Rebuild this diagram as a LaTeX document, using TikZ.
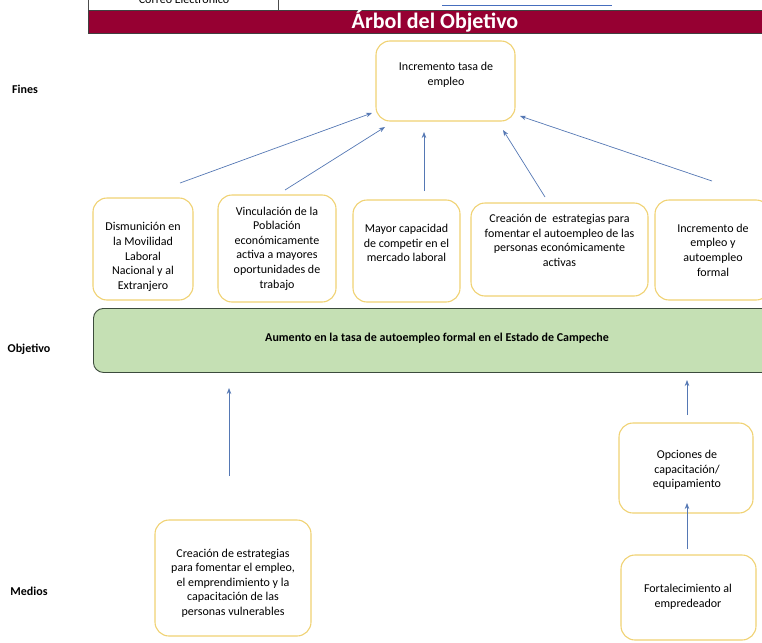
\documentclass[tikz,border=0pt]{standalone}
\usepackage{fontspec}
\setmainfont{Carlito}
\usetikzlibrary{arrows.meta}
\definecolor{boxyellow}{RGB}{240,210,115}
\definecolor{arrowblue}{RGB}{85,120,180}
\definecolor{titlered}{RGB}{150,0,50}
\definecolor{objgreen}{RGB}{197,224,180}
\definecolor{objborder}{RGB}{60,75,60}
\definecolor{linkblue}{RGB}{70,110,190}
\begin{document}
\begin{tikzpicture}[x=1pt,y=-1pt,
  box/.style={draw=boxyellow, line width=1.1pt, rounded corners=14pt, fill=white, inner sep=0pt},
  txt/.style={align=center, font=\fontsize{12}{14.6}\selectfont, inner sep=0pt},
  lbl/.style={font=\fontsize{12}{14}\selectfont\bfseries, inner sep=0pt},
  arr/.style={draw=arrowblue, line width=0.7pt, -{Stealth[length=6pt,width=4.5pt]}}]
\useasboundingbox (0,0) rectangle (762,642);
\clip (0,0) rectangle (762,642);

% top cut-off table row
\draw[black!70, line width=0.6pt] (88,-2) -- (88,10) (278,-2) -- (278,10);
\node[anchor=base, font=\fontsize{12}{14}\selectfont, inner sep=0pt] (correo) at (184,4) {Correo Electrónico};
\draw[linkblue, line width=0.6pt] (442,5.5) -- (612,5.5);

% title bar
\node[draw=black!75, fill=titlered, line width=0.8pt, minimum width=690, minimum height=23, inner sep=0pt, anchor=north west] (bar) at (88,10) {};
\node[text=white, font=\fontsize{22}{24}\selectfont\bfseries, inner sep=0pt] (title) at (435,21.5) {Árbol del Objetivo};

% side labels
\node[lbl] (fines) at (25,89) {Fines};
\node[lbl] (objetivo) at (29,349) {Objetivo};
\node[lbl] (medios) at (29,591) {Medios};

% top fin box
\node[box, minimum width=139, minimum height=80] (top) at (445.5,81) {};
\node[txt] (topt) at (446,75) {Incremento tasa de\\empleo};

% fines row
\node[box, minimum width=100, minimum height=102] (f1) at (143,249) {};
\node[txt] (f1t) at (143,257) {Dismunición en\\la Movilidad\\Laboral\\Nacional y al\\Extranjero};
\node[box, minimum width=118, minimum height=107] (f2) at (277,248.5) {};
\node[txt] (f2t) at (277,248.5) {Vinculación de la\\Población\\económicamente\\activa a mayores\\oportunidades de\\trabajo};
\node[box, minimum width=107, minimum height=102] (f3) at (406.5,251) {};
\node[txt] (f3t) at (406.5,243) {Mayor capacidad\\de competir en el\\mercado laboral};
\node[box, minimum width=177, minimum height=93] (f4) at (559.5,249.5) {};
\node[txt] (f4t) at (559.5,240.5) {Creación de\ \ estrategias para\\fomentar el autoempleo de las\\personas económicamente\\activas};
\node[box, minimum width=115, minimum height=100] (f5) at (712.5,250) {};
\node[txt] (f5t) at (713,250) {Incremento de\\empleo y\\autoempleo\\formal};

% objective
\node[draw=objborder, fill=objgreen, line width=0.9pt, rounded corners=10pt, minimum width=690, minimum height=64, anchor=north west, inner sep=0pt] (obj) at (93,308) {};
\node[font=\fontsize{12}{14}\selectfont\bfseries, inner sep=0pt] (objt) at (437,338) {Aumento en la tasa de autoempleo formal en el Estado de Campeche};

% medios
\node[box, minimum width=156, minimum height=116] (m1) at (233,578) {};
\node[txt] (m1t) at (233,583) {Creación de estrategias\\para fomentar el empleo,\\el emprendimiento y la\\capacitación de las\\personas vulnerables};
\node[box, minimum width=134, minimum height=90] (m2) at (686,468) {};
\node[txt] (m2t) at (687,470) {Opciones de\\capacitación/\\equipamiento};
\node[box, minimum width=135, minimum height=85] (m3) at (688.5,597.5) {};
\node[txt] (m3t) at (688,597) {Fortalecimiento al\\empredeador};

% arrow end points
\coordinate (a1s) at (180,183); \coordinate (a1e) at (372,113);
\coordinate (a2s) at (285,190); \coordinate (a2e) at (385,127);
\coordinate (a3s) at (424,191); \coordinate (a3e) at (424,132);
\coordinate (a4s) at (545,197); \coordinate (a4e) at (503,130);
\coordinate (a5s) at (712,181); \coordinate (a5e) at (520,116);
\coordinate (b1s) at (229,476); \coordinate (b1e) at (229,388);
\coordinate (b2s) at (687,415); \coordinate (b2e) at (687,380);
\coordinate (b3s) at (687,549); \coordinate (b3e) at (687,503);

\draw[arr] (a1s) -- (a1e);
\draw[arr] (a2s) -- (a2e);
\draw[arr] (a3s) -- (a3e);
\draw[arr] (a4s) -- (a4e);
\draw[arr] (a5s) -- (a5e);
\draw[arr] (b1s) -- (b1e);
\draw[arr] (b2s) -- (b2e);
\draw[arr] (b3s) -- (b3e);
\end{tikzpicture}
\end{document}
